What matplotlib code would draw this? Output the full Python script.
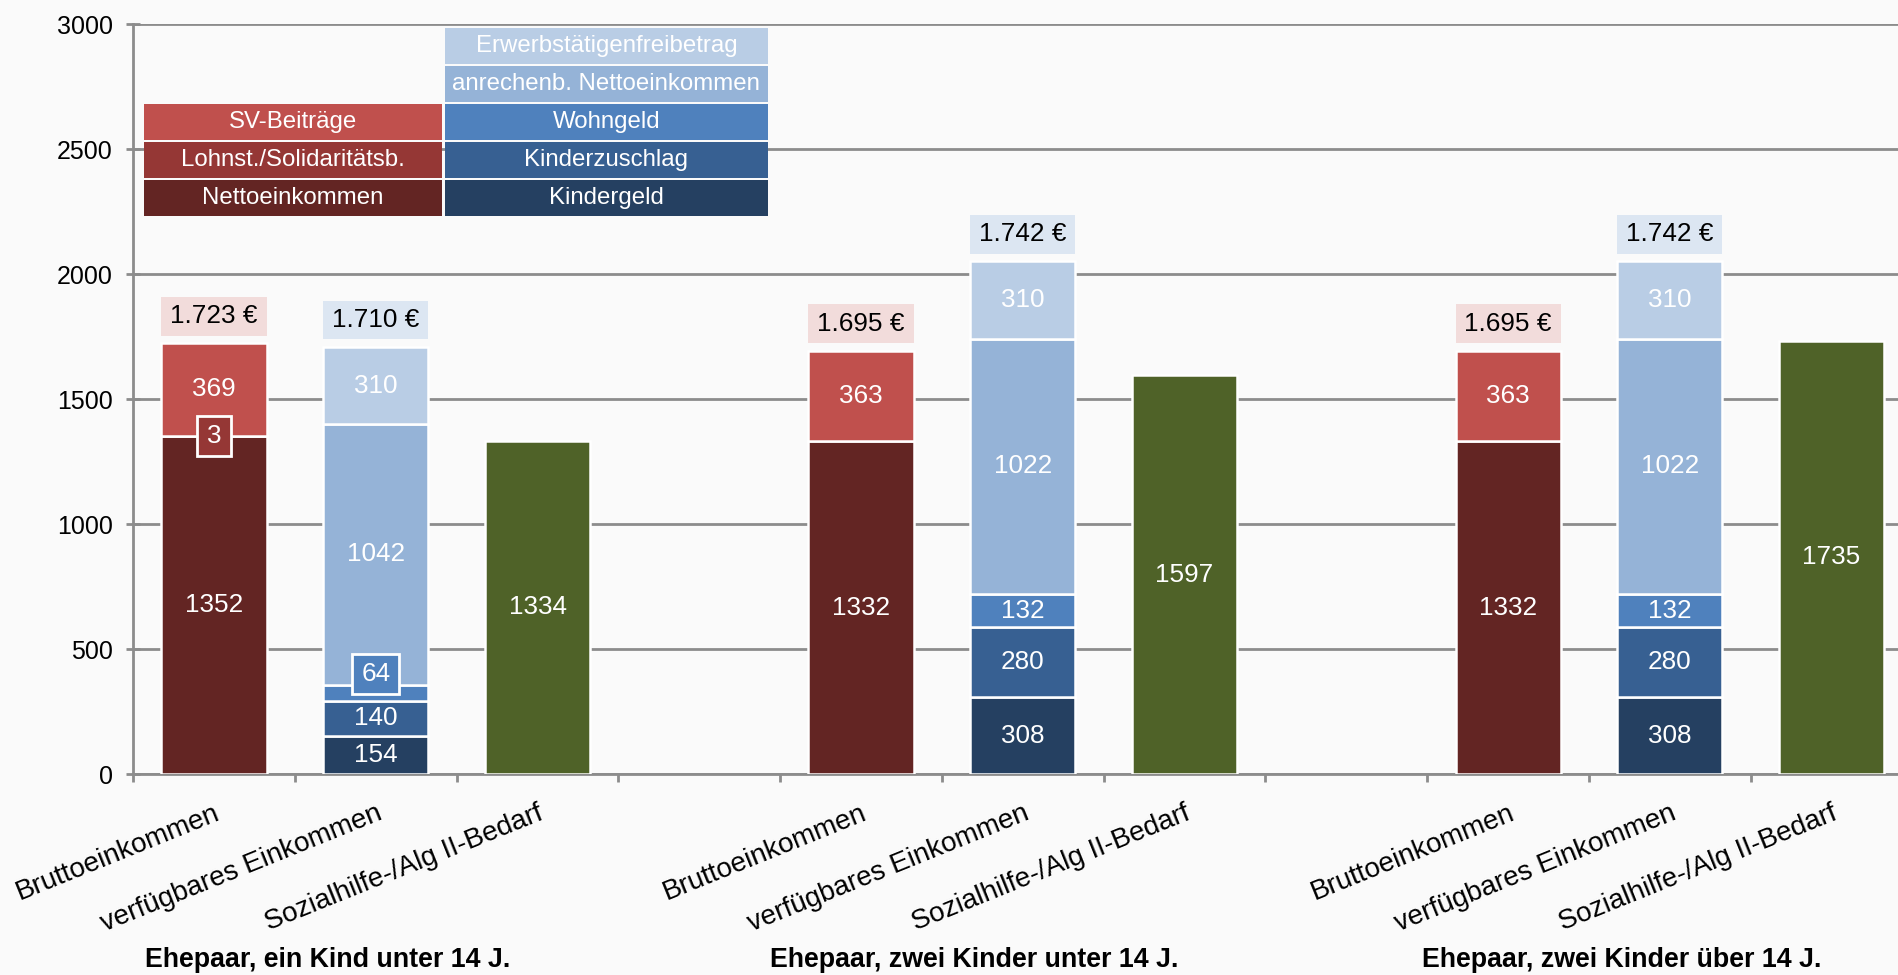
import matplotlib.pyplot as plt
from matplotlib.patches import Rectangle
import numpy as np

plt.rcParams['font.family'] = ['Liberation Sans', 'DejaVu Sans']

# data
categories = ["Bruttoeinkommen", "verfügbares Einkommen", "Sozialhilfe-/Alg II-Bedarf"]
groups = ["Ehepaar, ein Kind unter 14 J.", "Ehepaar, zwei Kinder unter 14 J.",
          "Ehepaar, zwei Kinder über 14 J."]

netto = [1352, 1332, 1332]
lohnst = [3, 0, 0]
sv = [369, 363, 363]

kindergeld = [154, 308, 308]
kinderzuschlag = [140, 280, 280]
wohngeld = [64, 132, 132]
anrech_netto = [1042, 1022, 1022]
freibetrag = [310, 310, 310]

bedarf = [1334, 1597, 1735]

brutto_totals = ["1.723 €", "1.695 €", "1.695 €"]
verf_totals = ["1.710 €", "1.742 €", "1.742 €"]

# colours
red_cols = ['#632523', '#953735', '#C0504D']
red_names = ['Nettoeinkommen', 'Lohnst./Solidaritätsb.', 'SV-Beiträge']
blue_cols = ['#254061', '#376092', '#4F81BD', '#95B3D7', '#B9CDE5']
blue_names = ['Kindergeld', 'Kinderzuschlag', 'Wohngeld',
              'anrechenb. Nettoeinkommen', 'Erwerbstätigenfreibetrag']
green = '#4F6228'
bg = '#FAFAFA'
gridc = '#8C8C8C'

W = 0.65
FS = 18.8

fig = plt.figure(figsize=(18.99, 9.75), dpi=100, facecolor=bg)
ax = fig.add_axes([0.0701, 0.206, 0.937, 0.769], facecolor=bg)


def stack(ax, x, vals, cols):
    bottom = 0
    for v, c in zip(vals, cols):
        if v > 0:
            ax.bar(x, v, W, bottom=bottom, color=c, edgecolor='white', linewidth=1.8, zorder=3)
            if v >= 100:
                ax.text(x, bottom + v / 2, str(v), ha='center', va='center',
                        color='white', fontsize=FS, zorder=5)
            else:
                # small segment: label in a framed box
                bw = 0.12 + 0.085 * len(str(v))
                yc = bottom + v / 2 + (75 if v > 10 else 0)
                ax.add_patch(Rectangle((x - bw / 2, yc - 80), bw, 160, facecolor=c,
                                       edgecolor='white', linewidth=2, zorder=4))
                ax.text(x, yc, str(v), ha='center', va='center',
                        color='white', fontsize=FS, zorder=5)
        bottom += v
    return bottom


def total_box(ax, x, top, label, fc):
    ax.add_patch(Rectangle((x - W / 2, top + 30), W, 155, facecolor=fc,
                           edgecolor='none', zorder=4))
    ax.text(x, top + 30 + 155 / 2, label, ha='center', va='center',
            color='black', fontsize=FS, zorder=5)


for g in range(3):
    x0 = 4 * g
    top = stack(ax, x0, [netto[g], lohnst[g], sv[g]], red_cols)
    total_box(ax, x0, top, brutto_totals[g], '#F2DCDB')
    top = stack(ax, x0 + 1, [kindergeld[g], kinderzuschlag[g], wohngeld[g],
                             anrech_netto[g], freibetrag[g]], blue_cols)
    total_box(ax, x0 + 1, top, verf_totals[g], '#DCE6F2')
    ax.bar(x0 + 2, bedarf[g], W, color=green, edgecolor='white', linewidth=1.8, zorder=3)
    ax.text(x0 + 2, bedarf[g] / 2, str(bedarf[g]), ha='center', va='center',
            color='white', fontsize=FS, zorder=5)
    fig.text(0.0701 + (x0 + 0.7 + 0.5) / 11 * 0.937, 0.0154, groups[g],
             ha='center', va='center', fontsize=19.3, fontweight='bold')

# legend table
rh, rs = 144, 152
y0 = 2232
for i, (n, c) in enumerate(zip(red_names, red_cols)):
    ax.add_patch(Rectangle((-0.433, y0 + i * rs), 1.842, rh, facecolor=c,
                           edgecolor='none', zorder=4))
    ax.text(-0.433 + 1.842 / 2, y0 + i * rs + rh / 2, n, ha='center', va='center',
            color='white', fontsize=17.3, zorder=5)
for i, (n, c) in enumerate(zip(blue_names, blue_cols)):
    ax.add_patch(Rectangle((1.427, y0 + i * rs), 1.997, rh, facecolor=c,
                           edgecolor='none', zorder=4))
    ax.text(1.427 + 1.997 / 2, y0 + i * rs + rh / 2, n, ha='center', va='center',
            color='white', fontsize=17.3, zorder=5)

ax.set_xlim(-0.5, 10.5)
ax.set_ylim(0, 3000)
ax.set_yticks(np.arange(0, 3001, 500))
ax.yaxis.grid(True, color=gridc, linewidth=2, zorder=0)
ax.set_axisbelow(True)
for s in ['top', 'right']:
    ax.spines[s].set_visible(False)
for s in ['left', 'bottom']:
    ax.spines[s].set_color(gridc)
    ax.spines[s].set_linewidth(2)
ax.tick_params(axis='y', labelsize=18, color=gridc, width=2, length=10,
               direction='inout', pad=9.5)

ax.set_xticks(np.arange(-0.5, 10.6, 1))
ax.set_xticklabels([])
centers = [4 * g + i for g in range(3) for i in range(3)]
ax.set_xticks(centers, minor=True)
ax.set_xticklabels(categories * 3, minor=True, rotation=22, ha='right',
                   rotation_mode='anchor', fontsize=20)
ax.tick_params(axis='x', which='major', color=gridc, width=2, length=6)
ax.tick_params(axis='x', which='minor', length=0, pad=19)

fig.savefig('out.png', dpi=100, facecolor=bg)
